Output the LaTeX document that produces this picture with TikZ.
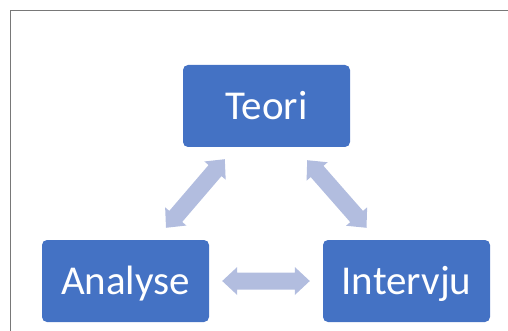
\documentclass[tikz,border=0pt]{standalone}
\usepackage{fontspec}
\setmainfont{Carlito}
\usetikzlibrary{calc,positioning}

\definecolor{boxblue}{RGB}{68,114,196}
\definecolor{arrowblue}{RGB}{178,189,223}
\definecolor{framegray}{RGB}{120,120,120}

% block arrow with a head at both ends, drawn between two coordinates
\newcommand{\bidir}[2]{%
	\fill[arrowblue] (#1)
		-- ($(#1)!15pt!(#2)!14pt!90:(#2)$) -- ($(#1)!15pt!(#2)!8.5pt!90:(#2)$)
		-- ($(#2)!15pt!(#1)!8.5pt!-90:(#1)$) -- ($(#2)!15pt!(#1)!14pt!-90:(#1)$)
		-- (#2)
		-- ($(#2)!15pt!(#1)!14pt!90:(#1)$) -- ($(#2)!15pt!(#1)!8.5pt!90:(#1)$)
		-- ($(#1)!15pt!(#2)!8.5pt!-90:(#2)$) -- ($(#1)!15pt!(#2)!14pt!-90:(#2)$)
		-- cycle;}

\tikzset{
	stage/.style={rectangle, rounded corners=5pt, fill=boxblue, text=white,
		minimum width=167pt, minimum height=82pt, inner sep=0pt,
		text height=27pt, text depth=0pt, font=\fontsize{41}{49}\selectfont}
}

\begin{document}
\begin{tikzpicture}[x=1pt,y=-1pt]
	\useasboundingbox (0,0) rectangle (508,331);
	% frame
	\draw[framegray, line width=1.5pt] (10.5,331) -- (10.5,10.5) -- (508,10.5);

	\node[stage] (teori) at (266.5,106) {Teori};
	\node[stage] (analyse) at (125.5,281) {Analyse};
	\node[stage] (intervju) at (406.5,281) {Intervju};

	% arrow ends
	\coordinate (tl) at ($(teori.south west)+(42,12)$);
	\coordinate (tr) at ($(teori.south east)+(-43,13)$);
	\coordinate (al) at ($(analyse.north)+(40.5,-12)$);
	\coordinate (ah) at ($(analyse.east)+(13,0)$);
	\coordinate (il) at ($(intervju.north)+(-40,-12)$);
	\coordinate (ih) at ($(intervju.west)+(-13,0)$);

	\bidir{tl}{al}
	\bidir{tr}{il}
	\bidir{ah}{ih}
\end{tikzpicture}
\end{document}
